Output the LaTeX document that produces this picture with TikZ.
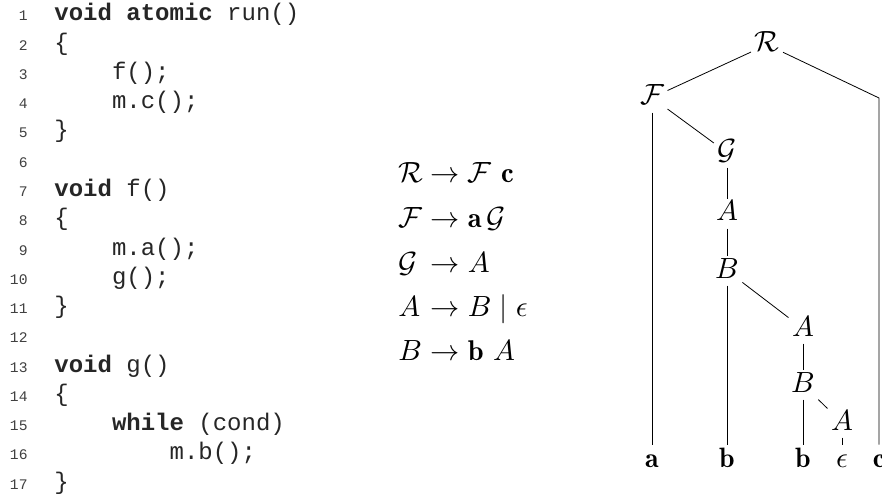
\documentclass[tikz,border=0pt]{standalone}
\usepackage{fontspec}
\setmonofont{Liberation Mono}

\tikzset{
    codeline/.style={anchor=base west, inner sep=0pt, font=\fontsize{9}{11}\ttfamily, text=black!85},
    lineno/.style={anchor=base east, inner sep=0pt, font=\fontsize{5.5}{6}\ttfamily, text=black!75},
    ruleside/.style={anchor=base west, inner sep=0pt, font=\fontsize{10.7}{13}\selectfont},
    sym/.style={anchor=base, inner sep=1.2pt, text height=7pt, text depth=1.5pt, font=\fontsize{10.5}{13}\selectfont},
}

\begin{document}
\begin{tikzpicture}[x=0.375pt, y=-0.375pt, line width=0.3pt]
        \useasboundingbox (0,0) rectangle (882,495);
        \def\lsp{29.25}
        \def\cw{14.4}

        % listing
        \foreach \n/\c/\t in {1/0/{\textbf{void atomic} run()}, 2/0/{\{}, 3/4/{f();}, 4/4/{m.c();},
                5/0/{\}}, 6/0/{}, 7/0/{\textbf{void} f()}, 8/0/{\{}, 9/4/{m.a();}, 10/4/{g();},
                11/0/{\}}, 12/0/{}, 13/0/{\textbf{void} g()}, 14/0/{\{}, 15/4/{\textbf{while} (cond)},
                16/8/{m.b();}, 17/0/{\}}} {
            \node[lineno] (num\n) at (28, 21+\n*\lsp-\lsp) {\n};
            \node[codeline] (code\n) at (54+\c*\cw, 21+\n*\lsp-\lsp) {\t};
        }

        % grammar
        \node[ruleside] (lhs1) at (398,183) {$\mathcal{R}$};
        \node[ruleside] (rhs1) at (422,183) {${}\to \mathcal{F}\ \mathbf{c}$};
        \node[ruleside] (lhs2) at (398,227) {$\mathcal{F}$};
        \node[ruleside] (rhs2) at (422,227) {${}\to \mathbf{a}\,\mathcal{G}$};
        \node[ruleside] (lhs3) at (398,272) {$\mathcal{G}$};
        \node[ruleside] (rhs3) at (422,272) {${}\to A$};
        \node[ruleside] (lhs4) at (398,316) {$A$};
        \node[ruleside] (rhs4) at (422,316) {${}\to B \mid \epsilon$};
        \node[ruleside] (lhs5) at (398,360) {$B$};
        \node[ruleside] (rhs5) at (422,360) {${}\to \mathbf{b}\ A$};

        % parse tree
        \node[sym] (R) at (767,52) {$\mathcal{R}$};
        \node[sym] (F) at (652,105) {$\mathcal{F}$};
        \node[sym] (G) at (727,160) {$\mathcal{G}$};
        \node[sym] (A1) at (727,221) {$A$};
        \node[sym] (B1) at (727,278) {$B$};
        \node[sym] (A2) at (803,336) {$A$};
        \node[sym] (B2) at (803,392) {$B$};
        \node[sym] (A3) at (842,430) {$A$};

        \node[sym] (la) at (652,467) {$\mathbf{a}$};
        \node[sym] (lb1) at (727,467) {$\mathbf{b}$};
        \node[sym] (lb2) at (803,467) {$\mathbf{b}$};
        \node[sym] (le) at (842,467) {$\epsilon$};
        \node[sym] (lc) at (879,467) {$\mathbf{c}$};
        \coordinate (Rc) at (879,98);

        \draw (R) -- (F);
        \draw (R) -- (Rc) -- (lc);
        \draw (F) -- (la);
        \draw (F) -- (G);
        \draw (G) -- (A1);
        \draw (A1) -- (B1);
        \draw (B1) -- (lb1);
        \draw (B1) -- (A2);
        \draw (A2) -- (B2);
        \draw (B2) -- (lb2);
        \draw (B2) -- (A3);
        \draw (A3) -- (le);
    \end{tikzpicture}
\end{document}
